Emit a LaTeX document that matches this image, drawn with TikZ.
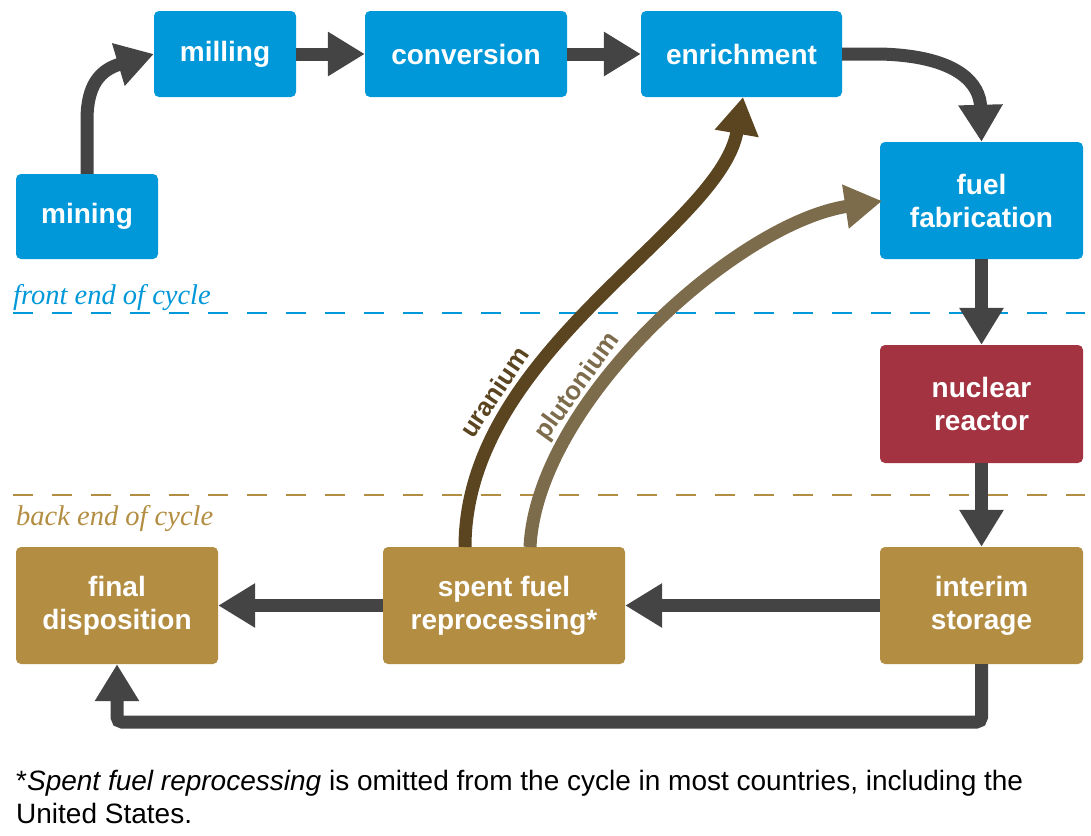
\documentclass[tikz,border=0pt]{standalone}
\usepackage{fontspec}
\setmainfont{Liberation Sans}
\newfontfamily\labserif{Liberation Serif}
\usetikzlibrary{arrows.meta}
\definecolor{cblue}{RGB}{0,152,217}
\definecolor{cred}{RGB}{163,51,65}
\definecolor{cgold}{RGB}{179,141,66}
\definecolor{cgray}{RGB}{68,68,68}
\definecolor{curan}{RGB}{91,69,33}
\definecolor{cplut}{RGB}{125,108,75}
\tikzset{
  box/.style={rounded corners=5pt, inner sep=0pt, align=center, text=white,
    font=\fontsize{28}{33}\selectfont\bfseries},
  bluebox/.style={box, fill=cblue},
  redbox/.style={box, fill=cred},
  goldbox/.style={box, fill=cgold},
  flow/.style={line width=13pt, draw=cgray, -{Triangle[width=42pt,length=37pt]}},
  uflow/.style={flow, draw=curan},
  pflow/.style={flow, draw=cplut},
  divider/.style={line width=2.5pt, dash pattern=on 20pt off 19pt},
  phase/.style={font=\labserif\itshape\fontsize{28.5}{30}\selectfont, inner sep=0pt, anchor=base west},
  matlabel/.style={font=\fontsize{26}{28}\selectfont\bfseries, inner sep=0pt}
}
\begin{document}
\begin{tikzpicture}[x=1pt,y=-1pt]
\useasboundingbox (0,0) rectangle (1091,835);
% dividers
\draw[divider, cblue] (13,313) -- (1085,313);
\draw[divider, cgold] (13,495) -- (1085,495);
\node[phase, text=cblue] (front) at (13,304) {front end of cycle};
\node[phase, text=cgold] (back) at (16,525) {back end of cycle};
% boxes
\node[bluebox, minimum width=142pt, minimum height=85pt] (mining) at (87,216.5) {mining};
\node[bluebox, minimum width=142pt, minimum height=86pt] (milling) at (225,54) {milling};
\node[bluebox, minimum width=202pt, minimum height=86pt] (conversion) at (466,54) {conversion};
\node[bluebox, minimum width=201pt, minimum height=86pt] (enrichment) at (741.5,54) {enrichment};
\node[bluebox, minimum width=203pt, minimum height=117pt] (fuelfab) at (981.5,200.5) {fuel\\fabrication};
\node[redbox, minimum width=203pt, minimum height=118pt] (reactor) at (981.5,404) {nuclear\\reactor};
\node[goldbox, minimum width=203pt, minimum height=117pt] (storage) at (981.5,605.5) {interim\\storage};
\node[goldbox, minimum width=242pt, minimum height=117pt] (reproc) at (504,605.5) {spent fuel\\reprocessing*};
\node[goldbox, minimum width=202pt, minimum height=117pt] (final) at (117,605.5) {final\\disposition};
% coordinates
\coordinate (m1) at (87,120);
\coordinate (e1) at (880,54);
\coordinate (b1) at (981.5,722);
\coordinate (ustart) at (465,547);
\coordinate (uend) at (743,97);
\coordinate (pstart) at (530,547);
\coordinate (pend) at (882,201);
% connectors
\draw[flow] (mining.north) -- (m1) .. controls (87,85) and (100,70) .. (milling.west);
\draw[flow] (milling.east) -- (conversion.west);
\draw[flow] (conversion.east) -- (enrichment.west);
\draw[flow] (enrichment.east) -- (e1) .. controls (960,56) and (980,85) .. (fuelfab.north);
\draw[flow] (fuelfab.south) -- (reactor.north);
\draw[flow] (reactor.south) -- (storage.north);
\draw[flow] (storage.west) -- (reproc.east);
\draw[flow] (reproc.west) -- (final.east);
\draw[flow, rounded corners=5pt] (storage.south) -- (b1) -| (final.south);
\draw[uflow] (ustart) .. controls (465,350) and (720,230) .. (uend);
\draw[pflow] (pstart) .. controls (537,402) and (737,223) .. (pend);
\node[matlabel, text=curan, rotate=56] (ulab) at (494,392) {uranium};
\node[matlabel, text=cplut, rotate=54] (plab) at (578,387) {plutonium};
% footnote
\node[inner sep=0pt, anchor=base west, align=left, font=\fontsize{28}{33}\selectfont] (note) at (16,823)
  {*\textit{Spent fuel reprocessing} is omitted from the cycle in most countries, including the\\United States.};
\end{tikzpicture}
\end{document}
